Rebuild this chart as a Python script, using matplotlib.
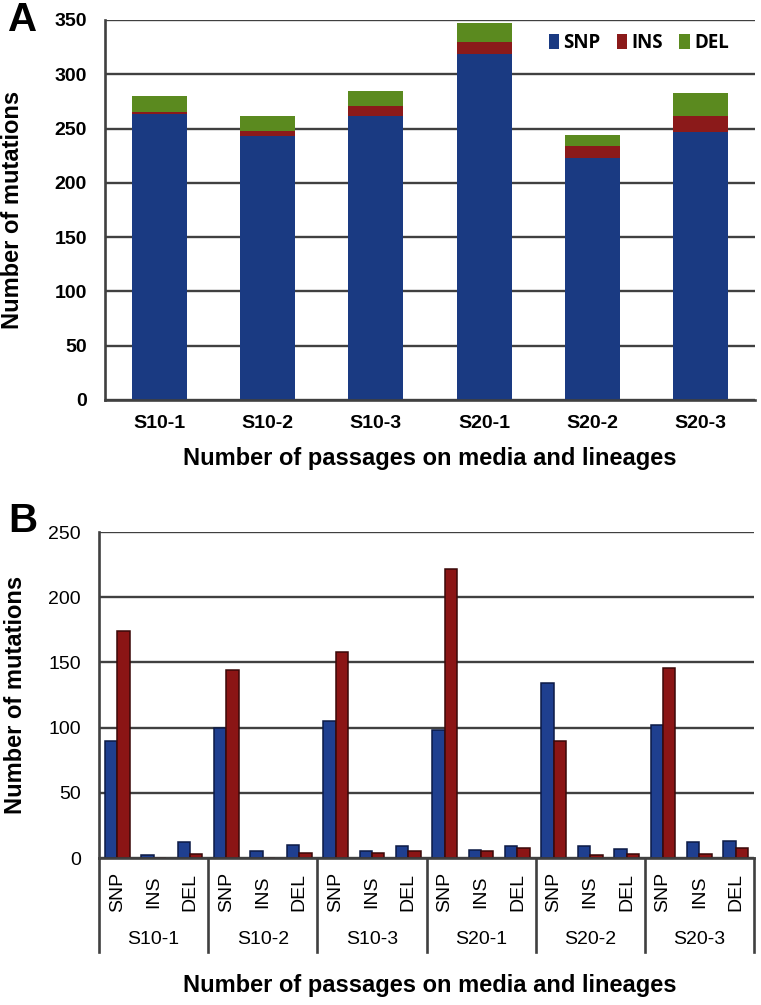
import matplotlib
matplotlib.use("Agg")
import matplotlib.pyplot as plt
import matplotlib.transforms as mtrans
import numpy as np

plt.rcParams["font.family"] = ["Liberation Sans", "DejaVu Sans"]

# --- data -------------------------------------------------------------
lineages = ["S10-1", "S10-2", "S10-3", "S20-1", "S20-2", "S20-3"]
mut_types = ["SNP", "INS", "DEL"]

# panel A: stacked totals per lineage
snp_total = [263, 243, 262, 319, 223, 247]
ins_total = [2, 5, 9, 11, 11, 15]
del_total = [15, 14, 14, 17, 10, 21]

# panel B: two series per (lineage, type), lineage-major order
series1 = [90, 2, 12, 100, 5, 10, 105, 5, 9, 98, 6, 9, 134, 9, 7, 102, 12, 13]
series2 = [174, 0, 3, 144, 0, 4, 158, 4, 5, 222, 5, 8, 90, 2, 3, 146, 3, 8]

BLUE = "#1a3a82"
RED = "#8b1a1a"
GREEN = "#5b8a1f"
GRID = "#404040"

W, H = 761, 1005
fig = plt.figure(figsize=(W / 100, H / 100), dpi=100)


def px_box(left, top, right, bottom):
    return [left / W, 1 - bottom / H, (right - left) / W, (bottom - top) / H]


def style_axes(ax, ymax):
    ax.set_ylim(0, ymax)
    ax.set_yticks(np.arange(0, ymax + 1, 50))
    ax.yaxis.grid(True, color=GRID, lw=1.7)
    ax.set_axisbelow(True)
    for s in ("top", "right"):
        ax.spines[s].set_visible(False)
    for s in ("left", "bottom"):
        ax.spines[s].set_color(GRID)
        ax.spines[s].set_linewidth(1.9)
    ax.tick_params(length=0)


# --- panel A ----------------------------------------------------------
axA = fig.add_axes(px_box(105, 20, 755, 400))
x = np.arange(len(lineages))
bw = 0.51
axA.bar(x, snp_total, bw, color=BLUE, label="SNP")
axA.bar(x, ins_total, bw, bottom=snp_total, color=RED, label="INS")
axA.bar(x, del_total, bw, bottom=np.add(snp_total, ins_total), color=GREEN, label="DEL")
axA.set_xlim(-0.5, len(lineages) - 0.5)
style_axes(axA, 350)
axA.set_xticks(x)
axA.set_xticklabels(lineages, fontsize=14, fontweight="bold")
axA.tick_params(axis="x", pad=11)
axA.tick_params(axis="y", pad=13, labelsize=14)
for t in axA.get_yticklabels():
    t.set_fontweight("bold")
axA.set_ylabel("Number of mutations", fontsize=17, fontweight="bold")
axA.yaxis.set_label_coords(-0.124, 0.5)
leg = axA.legend(loc="center right", bbox_to_anchor=(0.96, 0.94), ncol=3, frameon=False,
                 borderaxespad=0, borderpad=0,
                 handlelength=0.55, handleheight=0.9, handletextpad=0.25, columnspacing=0.85,
                 prop={"family": ["Open Sans", "Liberation Sans"], "weight": "bold", "size": 13.5})
fig.text(430 / W, 1 - 459 / H, "Number of passages on media and lineages",
         ha="center", va="center", fontsize=17, fontweight="bold")
fig.text(8 / W, 1 - 20 / H, "A", ha="left", va="center", fontsize=29, fontweight="bold")

# --- panel B ----------------------------------------------------------
axB = fig.add_axes(px_box(99, 532, 754, 858))
n = len(lineages) * len(mut_types)
xb = np.arange(n)
bwb = 0.34
axB.bar(xb - bwb, series1, bwb, align="edge", color="#1f3f8f", edgecolor="#0c1a45", lw=1.1)
axB.bar(xb, series2, bwb, align="edge", color="#8b1515", edgecolor="#3a0808", lw=1.1)
axB.set_xlim(-0.5, n - 0.5)
style_axes(axB, 250)
axB.set_xticks([])
axB.tick_params(axis="y", pad=13, labelsize=14)
axB.set_ylabel("Number of mutations", fontsize=17, fontweight="bold")
axB.yaxis.set_label_coords(-0.11, 0.5)

trans = mtrans.blended_transform_factory(axB.transData, axB.transAxes)
for i in range(n):
    axB.text(i, -0.105, mut_types[i % 3], rotation=90, ha="center", va="center",
             fontsize=14, transform=trans)
for g, name in enumerate(lineages):
    axB.text(g * 3 + 1, -0.25, name, ha="center", va="center", fontsize=14, transform=trans)
for g in range(len(lineages) + 1):
    xs = g * 3 - 0.5
    axB.plot([xs, xs], [0, -0.289], color=GRID, lw=1.9, transform=trans, clip_on=False)

fig.text(430 / W, 1 - 985 / H, "Number of passages on media and lineages",
         ha="center", va="center", fontsize=17, fontweight="bold")
fig.text(8 / W, 1 - 521 / H, "B", ha="left", va="center", fontsize=29, fontweight="bold")

fig.savefig("out.png", dpi=100)
